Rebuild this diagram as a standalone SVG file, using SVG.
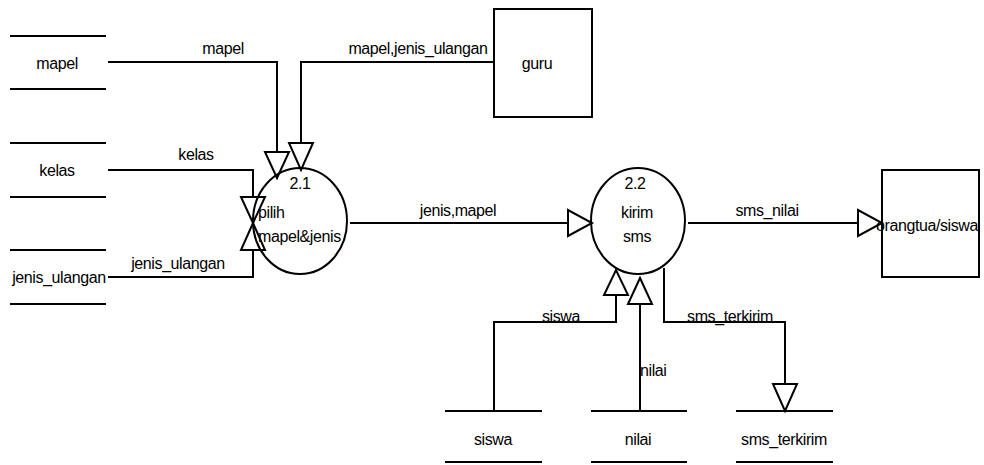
<svg xmlns="http://www.w3.org/2000/svg" width="984" height="465" viewBox="0 0 984 465">
<style>
text{font-family:"Liberation Sans",Arial,sans-serif;font-size:16px;letter-spacing:-0.4px;fill:#000}
.m{text-anchor:middle}
.ln{stroke:#000;stroke-width:2;fill:none}
.ar{stroke:#000;stroke-width:2;fill:#fff;stroke-linejoin:miter}
.sh{stroke:#000;stroke-width:2;fill:none}
</style>
<rect width="984" height="465" fill="#fff"/>
<g id="connectors">
<polyline class="ln" points="108,62 277,62 277,152"/>
<polyline class="ln" points="494,62 301,62 301,143"/>
<polyline class="ln" points="108,170 253,170 253,197"/>
<polyline class="ln" points="108,277 253,277 253,250"/>
<line class="ln" x1="350" y1="223" x2="568" y2="223"/>
<line class="ln" x1="688" y1="223" x2="858" y2="223"/>
<polyline class="ln" points="494,411 494,322 616,322 616,295"/>
<line class="ln" x1="640" y1="411" x2="640" y2="304"/>
<polyline class="ln" points="664,268 664,322 785,322 785,384"/>
<polygon class="ar" points="265,152 289,152 277,178"/>
<polygon class="ar" points="289,143 313,143 301,170"/>
<polygon class="ar" points="241,197 265,197 253,223"/>
<polygon class="ar" points="241,250 265,250 253,223"/>
<polygon class="ar" points="568,210 568,236 592,223"/>
<polygon class="ar" points="858,210 858,236 882,223"/>
<polygon class="ar" points="604,295 628,295 616,270"/>
<polygon class="ar" points="628,304 652,304 640,278"/>
<polygon class="ar" points="773,384 797,384 785,411"/>
<text x="223" y="54" class="m">mapel</text>
<text x="418" y="54" class="m">mapel,jenis_ulangan</text>
<text x="196" y="160" class="m">kelas</text>
<text x="178" y="269" class="m">jenis_ulangan</text>
<text x="458" y="216" class="m">jenis,mapel</text>
<text x="767" y="216" class="m">sms_nilai</text>
<text x="561" y="322" class="m">siswa</text>
<text x="730" y="322" class="m">sms_terkirim</text>
<text x="640" y="376">nilai</text>
</g>
<g id="store-mapel">
<line class="ln" x1="10" y1="36" x2="106" y2="36"/>
<line class="ln" x1="10" y1="89" x2="106" y2="89"/>
<text x="57" y="69" class="m">mapel</text>
</g>
<g id="store-kelas">
<line class="ln" x1="10" y1="143" x2="106" y2="143"/>
<line class="ln" x1="10" y1="197" x2="106" y2="197"/>
<text x="57" y="176" class="m">kelas</text>
</g>
<g id="store-jenis-ulangan">
<line class="ln" x1="10" y1="250" x2="106" y2="250"/>
<line class="ln" x1="10" y1="304" x2="106" y2="304"/>
<text x="59" y="283" class="m">jenis_ulangan</text>
</g>
<g id="guru">
<rect class="sh" x="494" y="9" width="98" height="108"/>
<text x="537" y="69" class="m">guru</text>
</g>
<g id="proc-2-1">
<ellipse class="sh" cx="300" cy="221" rx="47" ry="53"/>
<text x="300" y="189" class="m">2.1</text>
<text x="258" y="218">pilih</text>
<text x="258" y="242">mapel&amp;jenis</text>
</g>
<g id="proc-2-2">
<ellipse class="sh" cx="638" cy="221" rx="47" ry="53"/>
<text x="635" y="189" class="m">2.2</text>
<text x="637" y="218" class="m">kirim</text>
<text x="637" y="242" class="m">sms</text>
</g>
<g id="orangtua-siswa">
<rect class="sh" x="882" y="170" width="97" height="107"/>
<text x="927" y="231" class="m">orangtua/siswa</text>
</g>
<g id="store-siswa">
<line class="ln" x1="445" y1="411" x2="542" y2="411"/>
<line class="ln" x1="445" y1="462" x2="542" y2="462"/>
<text x="493" y="445" class="m">siswa</text>
</g>
<g id="store-nilai">
<line class="ln" x1="591" y1="411" x2="687" y2="411"/>
<line class="ln" x1="591" y1="462" x2="687" y2="462"/>
<text x="638" y="445" class="m">nilai</text>
</g>
<g id="store-sms-terkirim">
<line class="ln" x1="736" y1="411" x2="833" y2="411"/>
<line class="ln" x1="736" y1="462" x2="833" y2="462"/>
<text x="784" y="445" class="m">sms_terkirim</text>
</g>
</svg>
